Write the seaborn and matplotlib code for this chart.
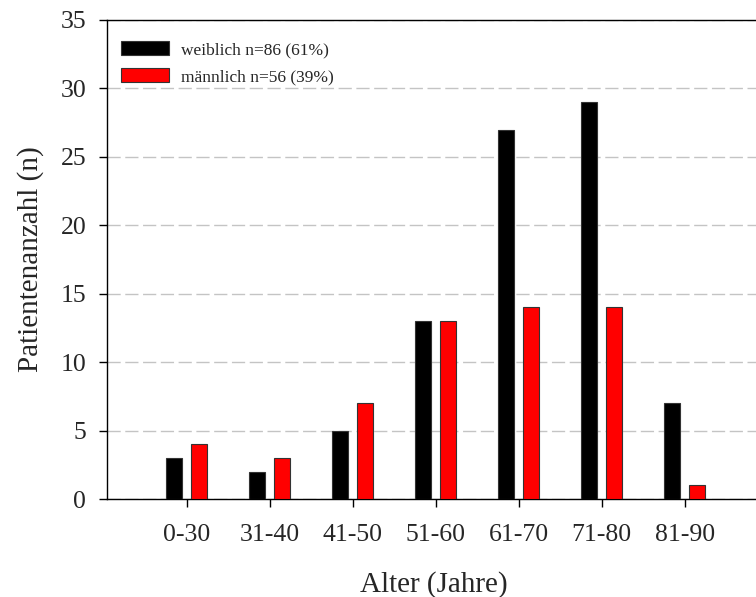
import matplotlib
matplotlib.use("Agg")
import matplotlib.pyplot as plt
import seaborn as sns
import pandas as pd
from matplotlib.patches import Patch

# Altersgruppen und Patientenzahlen
age_groups = ["0-30", "31-40", "41-50", "51-60", "61-70", "71-80", "81-90"]
female = [3, 2, 5, 13, 27, 29, 7]
male = [4, 3, 7, 13, 14, 14, 1]
series = ["weiblich n=86 (61%)", "männlich n=56 (39%)"]
colors = ["#000000", "#ff0000"]
y_ticks = [0, 5, 10, 15, 20, 25, 30, 35]

df = pd.DataFrame({
    "Alter": age_groups * 2,
    "n": female + male,
    "Geschlecht": [series[0]] * len(age_groups) + [series[1]] * len(age_groups),
})

sns.set_style("white")
plt.rcParams["font.family"] = ["Liberation Serif", "DejaVu Serif"]

fig = plt.figure(figsize=(7.56, 5.97), dpi=100)
ax = fig.add_axes([0.1415, 0.164, 0.865, 0.8025])

sns.barplot(data=df, x="Alter", y="n", hue="Geschlecht", order=age_groups,
            hue_order=series, palette=colors, saturation=1, width=0.6, gap=0.37,
            edgecolor="#333333", linewidth=0.8, legend=False, ax=ax, zorder=3)

ax.set_ylim(0, 35)
ax.set_xlim(-0.96, 6.92)
ax.set_yticks(y_ticks)
ax.yaxis.grid(True, color="#c4c4c4", linestyle=(0, (9.5, 3.3)), linewidth=1.0, zorder=0)
ax.set_axisbelow(True)

ax.tick_params(axis="both", which="major", direction="out", length=6, width=1,
               color="black", labelsize=18.5, bottom=True, left=True)
ax.tick_params(axis="x", pad=12)
ax.tick_params(axis="y", pad=9)

for side in ["left", "bottom", "top"]:
    ax.spines[side].set_visible(True)
    ax.spines[side].set_color("black")
    ax.spines[side].set_linewidth(1.0)
ax.spines["right"].set_visible(False)

ax.set_xlabel("Alter (Jahre)", fontsize=21, labelpad=18)
ax.set_ylabel("Patientenanzahl (n)", fontsize=21, labelpad=12)

handles = [Patch(facecolor=c, edgecolor="#333333", linewidth=0.8) for c in colors]
ax.legend(handles, series, loc="upper left", frameon=False, fontsize=12.5,
          handlelength=2.76, handleheight=0.85, handletextpad=0.7,
          labelspacing=0.6, borderpad=0.3, borderaxespad=0.5,
          bbox_to_anchor=(0.0, 0.985))

fig.savefig("out.png", dpi=100)
